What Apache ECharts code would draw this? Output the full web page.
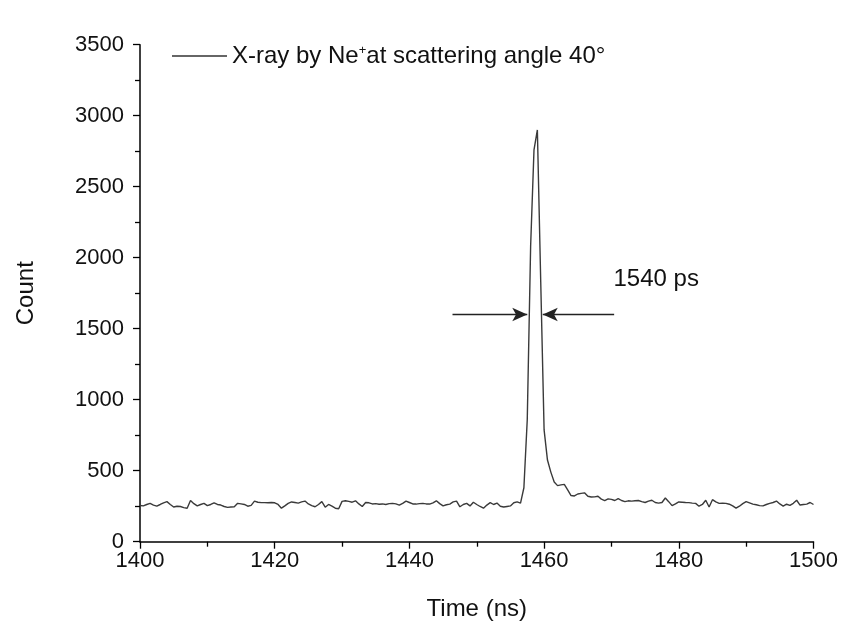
<!DOCTYPE html>
<html>
<head>
<meta charset="utf-8">
<script src="https://cdn.jsdelivr.net/npm/echarts@6/dist/echarts.min.js"></script>
<style>html,body{margin:0;padding:0;background:#fff;}#c{width:853px;height:639px;}</style>
</head>
<body>
<div id="c"></div>
<script>
// Time axis (ns), sampled every 0.5 ns from 1400 to 1500
const timeStart = 1400;
const timeStep = 0.5;
// Counts
const counts = [
255,252,262,270,258,251,262,274,282,262,
244,250,248,240,236,290,268,252,262,270,
254,262,274,262,258,248,242,244,246,270,
266,262,250,256,286,278,275,275,274,276,
274,262,236,252,270,280,276,272,280,286,
266,254,246,262,282,243,262,250,236,232,
284,288,284,278,288,266,248,276,274,266,
268,264,266,262,268,270,266,258,270,286,
276,266,265,268,270,266,265,274,288,268,
252,260,265,280,286,246,262,270,252,278,
262,248,236,258,275,262,272,250,244,248,
252,274,280,272,380,860,2080,2760,2900,1830,
787,575,490,420,395,400,404,365,325,322,
336,340,344,320,315,316,320,300,290,302,
298,290,304,290,282,288,286,288,290,282,
276,286,292,276,272,276,308,282,254,266,
280,278,276,275,272,270,250,262,292,244,
296,280,270,272,270,264,252,236,250,268,
282,274,265,260,254,252,262,270,276,286,
266,251,264,256,270,292,258,262,265,276,
262
];
const times = counts.map((_, i) => timeStart + i * timeStep);
const xTicks = [1400, 1420, 1440, 1460, 1480, 1500];
const yTicks = [0, 500, 1000, 1500, 2000, 2500, 3000, 3500];
const seriesName = 'X-ray by Ne+at scattering angle 40°';
// FWHM annotation (data units)
const fwhmLabel = '1540 ps';
const fwhmLevel = 1600;
const leftArrow = [1446.4, 1457.5];
const rightArrow = [1470.4, 1459.8];
const labelPos = [1470.3, 1850];

const chart = echarts.init(document.getElementById('c'), null, {renderer: 'canvas'});
const font = '"Liberation Sans", Arial, sans-serif';
const axisCol = '#000';
const txtCol = '#111';
chart.setOption({
  animation: false,
  backgroundColor: '#fff',
  textStyle: {fontFamily: font},
  grid: {left: 140, right: 39.5, top: 44.7, bottom: 97.3, containLabel: false},
  legend: {
    show: true,
    left: 167, top: 39,
    itemWidth: 55, itemHeight: 1.5, itemGap: 5,
    icon: 'rect',
    itemStyle: {color: '#333', borderWidth: 0},
    data: [seriesName],
    formatter: function () { return '{a|X-ray by Ne}{s|+}{a|at scattering angle 40°}'; },
    textStyle: {
      fontFamily: font, color: txtCol, fontSize: 24,
      rich: {
        a: {fontFamily: font, fontSize: 24, color: txtCol},
        s: {fontFamily: font, fontSize: 13, color: txtCol, verticalAlign: 'top', padding: [0, 0, 13, 0], lineHeight: 24}
      }
    }
  },
  xAxis: {
    type: 'value', min: 1400, max: 1500, interval: 20,
    name: 'Time (ns)', nameLocation: 'middle', nameGap: 56,
    nameTextStyle: {fontFamily: font, fontSize: 24, color: txtCol},
    axisLine: {show: true, onZero: false, lineStyle: {color: axisCol, width: 1.5}},
    axisTick: {show: true, inside: false, length: 7, lineStyle: {color: axisCol, width: 1.3}},
    minorTick: {show: true, splitNumber: 2, length: 5, lineStyle: {color: axisCol, width: 1.3}},
    axisLabel: {fontFamily: font, fontSize: 22, color: txtCol, margin: 8,
      formatter: v => xTicks.includes(v) ? String(v) : ''},
    splitLine: {show: false}
  },
  yAxis: {
    type: 'value', min: 0, max: 3500, interval: 500,
    name: 'Count', nameLocation: 'middle', nameGap: 102, nameRotate: 90,
    nameTextStyle: {fontFamily: font, fontSize: 24, color: txtCol},
    axisLine: {show: true, onZero: false, lineStyle: {color: axisCol, width: 1.5}},
    axisTick: {show: true, inside: false, length: 7, lineStyle: {color: axisCol, width: 1.3}},
    minorTick: {show: true, splitNumber: 2, length: 5, lineStyle: {color: axisCol, width: 1.3}},
    axisLabel: {fontFamily: font, fontSize: 22, color: txtCol, margin: 16,
      formatter: v => yTicks.includes(v) ? String(v) : ''},
    splitLine: {show: false}
  },
  series: [{
    name: seriesName,
    type: 'line',
    data: times.map((t, i) => [t, counts[i]]),
    symbol: 'none',
    smooth: false,
    lineStyle: {color: '#3a3a3a', width: 1.4},
    itemStyle: {color: '#3a3a3a'},
    markLine: {
      silent: true,
      symbol: ['none', 'arrow'],
      symbolSize: [10, 15],
      label: {show: false},
      lineStyle: {color: '#222', width: 1.4, type: 'solid'},
      data: [
        [{coord: [leftArrow[0], fwhmLevel]}, {coord: [leftArrow[1], fwhmLevel]}],
        [{coord: [rightArrow[0], fwhmLevel]}, {coord: [rightArrow[1], fwhmLevel]}]
      ]
    },
    markPoint: {
      silent: true,
      symbol: 'circle', symbolSize: 0,
      label: {show: true, position: 'right', distance: 0, formatter: fwhmLabel,
        fontFamily: font, fontSize: 24, color: txtCol},
      data: [{coord: labelPos}]
    }
  }]
});
</script>
</body>
</html>
